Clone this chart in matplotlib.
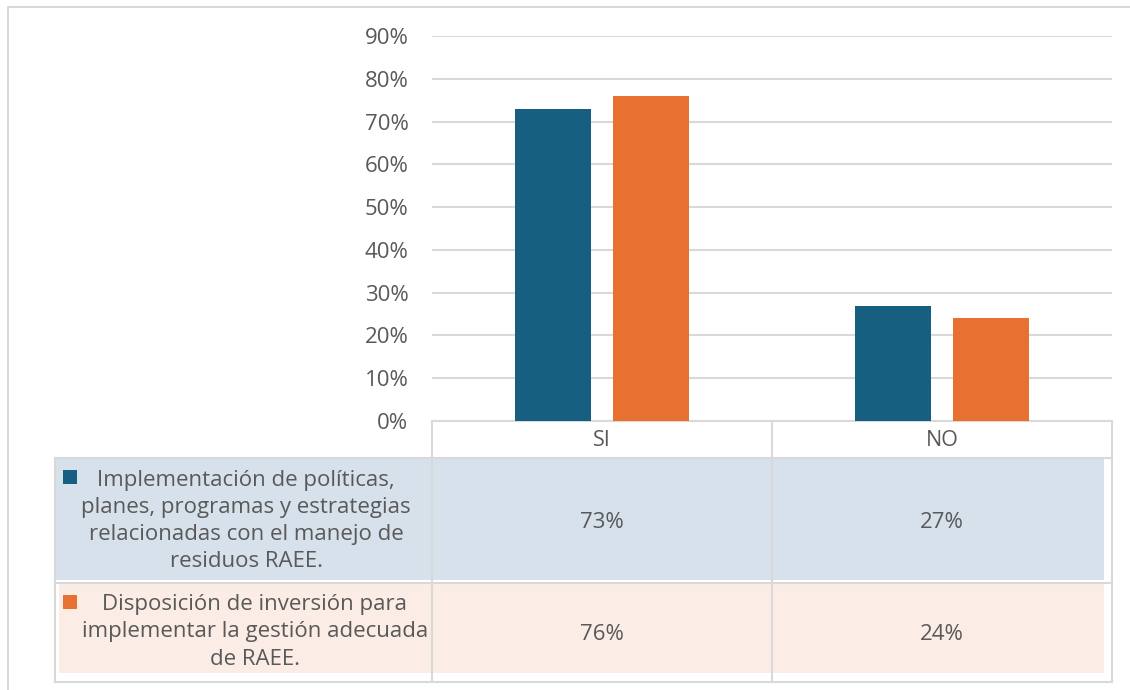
import numpy as np
import matplotlib.pyplot as plt
from matplotlib.patches import Rectangle

categories = ["SI", "NO"]
series_names = [
    "Implementación de políticas,\nplanes, programas y estrategias\nrelacionadas con el manejo de\nresiduos RAEE.",
    "Disposición de inversión para\nimplementar la gestión adecuada\nde RAEE.",
]
implementacion = [73, 27]
disposicion = [76, 24]
yticks = [0, 10, 20, 30, 40, 50, 60, 70, 80, 90]

BLUE = "#175F80"
ORANGE = "#E87132"
BLUE_FILL = "#D2DEEA"
ORANGE_FILL = "#FBEAE3"
GRID = "#D9D9D9"
TEXT = "#595959"

plt.rcParams["font.family"] = ["Open Sans", "DejaVu Sans"]

W, H = 1130, 690
fig = plt.figure(figsize=(W / 100, H / 100), dpi=100)

# background layer in pixel coordinates: outer frame and data table
bg = fig.add_axes([0, 0, 1, 1])
bg.set_xlim(0, W)
bg.set_ylim(H, 0)
bg.axis("off")

bg.plot([8, 8, W], [H, 7, 7], color=GRID, lw=1.5)

x_left, x_mid1, x_mid2, x_right = 55, 432, 772, 1112
y_top, y_head, y_row, y_bot = 421, 458, 583, 682

# table grid lines
for xv in (x_mid1, x_mid2, x_right):
    bg.plot([xv, xv], [y_top, y_bot], color=GRID, lw=1.5)
bg.plot([x_left, x_left], [y_head, y_bot], color=GRID, lw=1.5)
bg.plot([x_mid1, x_right], [y_top, y_top], color=GRID, lw=1.5)
for yv in (y_head, y_row, y_bot):
    bg.plot([x_left, x_right], [yv, yv], color=GRID, lw=1.5)

# row fills
bg.add_patch(Rectangle((x_left, y_head), 1104 - x_left, 580 - y_head,
                       facecolor=BLUE_FILL, edgecolor="none", alpha=0.9))
bg.add_patch(Rectangle((59, y_row), 1104 - 59, 673 - y_row,
                       facecolor=ORANGE_FILL, edgecolor="none", alpha=0.9))

col_centers = [(x_mid1 + x_mid2) / 2, (x_mid2 + x_right) / 2]
for cx, cat in zip(col_centers, categories):
    bg.text(cx, 440, cat, ha="center", va="center", fontsize=15.5, color=TEXT)

row_centers = [522, 634]
row_text_y = [521, 632]
label_x = [246, 255]
colors = [BLUE, ORANGE]
marker_y = [477, 602]
for vals, name, ry, ty, lx, col, my in zip([implementacion, disposicion], series_names,
                                           row_centers, row_text_y, label_x, colors, marker_y):
    bg.add_patch(Rectangle((63, my - 7), 14, 14, facecolor=col, edgecolor="none"))
    bg.text(lx, ty, name, ha="center", va="center", fontsize=16,
            color=TEXT, linespacing=1.39)
    for cx, v in zip(col_centers, vals):
        bg.text(cx, ry, f"{v}%", ha="center", va="center", fontsize=16, color=TEXT)

# bar chart
ax = fig.add_axes([x_mid1 / W, (H - y_top) / H, (x_right - x_mid1) / W, (y_top - 36) / H])
x = np.arange(len(categories))
width = 0.224
ax.bar(x - 0.143, implementacion, width, color=BLUE, zorder=3)
ax.bar(x + 0.143, disposicion, width, color=ORANGE, zorder=3)
ax.set_xlim(-0.5, 1.5)
ax.set_ylim(0, 90)
ax.set_yticks(yticks)
ax.set_yticklabels([f"{t}%" for t in yticks])
ax.set_xticks([])
ax.grid(axis="y", color=GRID, lw=1.5, zorder=0)
for s in ax.spines.values():
    s.set_visible(False)
ax.tick_params(axis="y", length=0, pad=17, labelsize=16, labelcolor=TEXT)
ax.patch.set_alpha(0)

fig.savefig("out.png", dpi=100)
